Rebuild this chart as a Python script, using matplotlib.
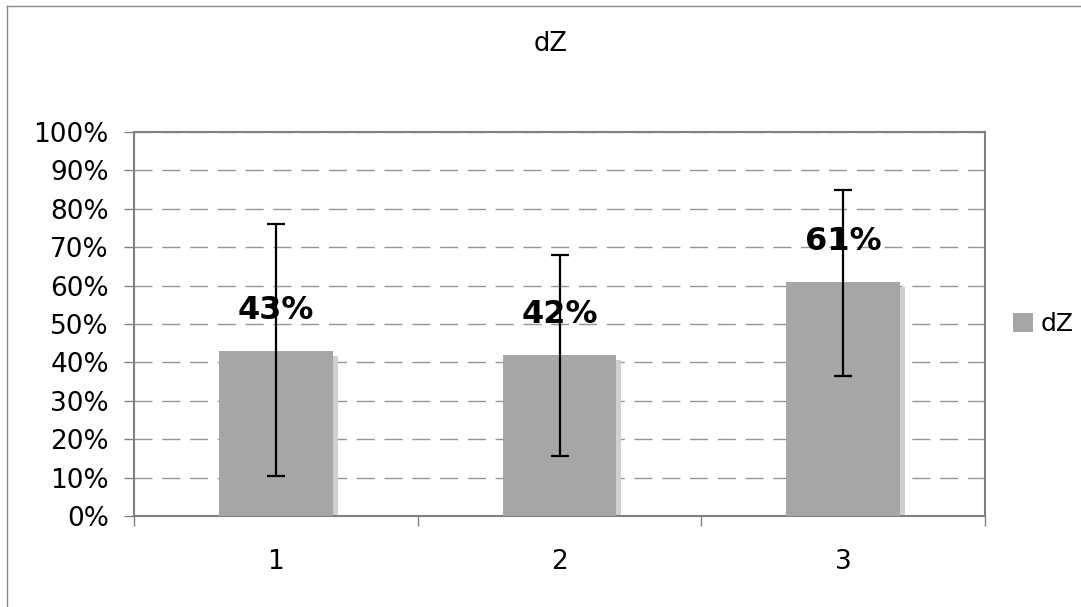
import matplotlib.pyplot as plt
import numpy as np
from matplotlib.ticker import PercentFormatter, FixedLocator
from matplotlib.transforms import ScaledTranslation

categories = ['1', '2', '3']
values = [43, 42, 61]
err_low = [10.5, 15.5, 36.5]
err_high = [76, 68, 85]
labels = ['43%', '42%', '61%']

fig = plt.figure(figsize=(10.81, 6.07), dpi=100)
ax = fig.add_axes([134 / 1081, 1 - 516 / 607, 851 / 1081, 384 / 607])

x = np.arange(len(categories))
w = 0.4
# shadow bars, slightly offset
shadow_off = ScaledTranslation(5 / 100, -5 / 100, fig.dpi_scale_trans)
ax.bar(x, values, width=w, color='#d0d0d0', zorder=2,
       transform=ax.transData + shadow_off)
ax.bar(x, values, width=w, color='#a6a6a6', zorder=3, label='dZ')

lower = [v - lo for v, lo in zip(values, err_low)]
upper = [hi - v for v, hi in zip(values, err_high)]
ax.errorbar(x, values, yerr=[lower, upper], fmt='none', ecolor='black',
            elinewidth=1.6, capsize=6.5, capthick=1.6, zorder=4)

for xi, v, lab in zip(x, values, labels):
    ax.text(xi, v + 10.5, lab, ha='center', va='center', fontsize=23,
            fontweight='bold', zorder=5)

ax.set_xlim(-0.5, 2.5)
ax.set_ylim(0, 100)
ax.yaxis.set_major_locator(FixedLocator(np.arange(0, 101, 10)))
ax.yaxis.set_major_formatter(PercentFormatter(decimals=0))
ax.set_xticks(x)
ax.set_xticklabels(categories)
ax.xaxis.set_minor_locator(FixedLocator([-0.5, 0.5, 1.5, 2.5]))
ax.tick_params(axis='x', which='major', length=0, labelsize=19, pad=24)
ax.tick_params(axis='x', which='minor', length=7, color='#808080', width=1)
ax.tick_params(axis='y', length=7, color='#808080', width=1, labelsize=19, pad=11)

ax.yaxis.grid(True, linestyle=(0, (13, 7)), color='#959595', linewidth=1, zorder=1)
ax.set_axisbelow(True)
for sp in ax.spines.values():
    sp.set_color('#808080')
    sp.set_linewidth(1.5)

fig.text(551 / 1081, 1 - 44 / 607, 'dZ', ha='center', va='center', fontsize=18.5)
fig.legend(loc='center left', bbox_to_anchor=(1013 / 1081, 1 - 324 / 607),
           frameon=False, fontsize=18, handlelength=0.8, handleheight=0.8,
           handletextpad=0.3, borderpad=0, borderaxespad=0)

# outer chart border (top and left visible)
fig.add_artist(plt.Line2D([7 / 1081, 1], [1 - 6 / 607, 1 - 6 / 607],
                          transform=fig.transFigure, color='#888888', lw=1))
fig.add_artist(plt.Line2D([7 / 1081, 7 / 1081], [0, 1 - 6 / 607],
                          transform=fig.transFigure, color='#888888', lw=1))

fig.savefig('out.png', dpi=100)
